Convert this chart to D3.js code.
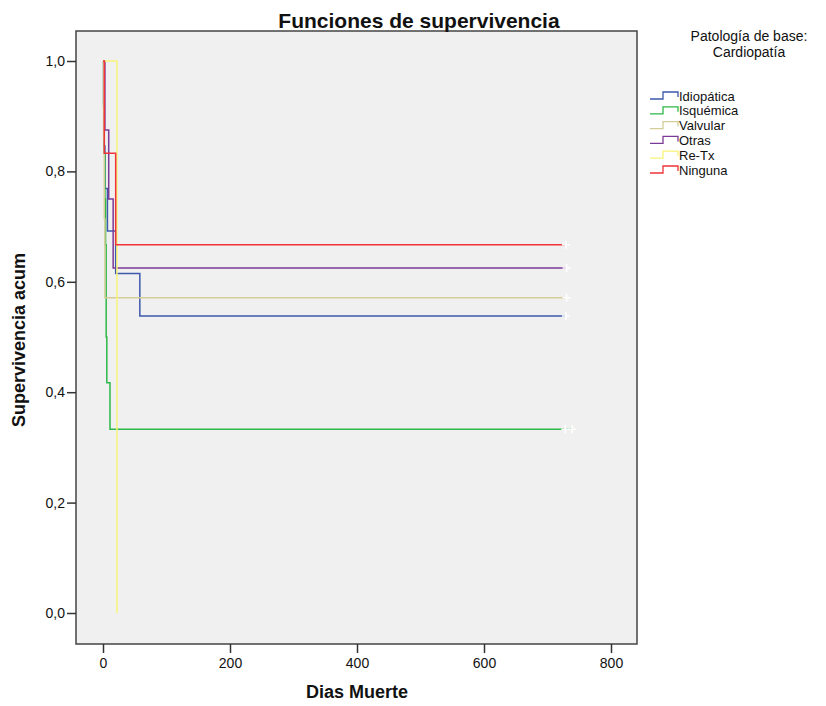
<!DOCTYPE html>
<html>
<head>
<meta charset="utf-8">
<script src="https://cdn.jsdelivr.net/npm/d3@7"></script>
<style>
  body { margin: 0; background: #fff; }
  svg text { font-family: "Liberation Sans", Arial, sans-serif; fill: #111; }
</style>
</head>
<body>
<div id="chart"></div>
<script>
// categorias y colores
const groups = ["Idiopática", "Isquémica", "Valvular", "Otras", "Re-Tx", "Ninguna"];
const colors = ["#3e58ac", "#2eb848", "#d3ce97", "#7b3a96", "#f8f47a", "#ef3338"];

// curvas Kaplan-Meier: tiempos (dias) y supervivencia acumulada
const times = [
  [0, 1, 2, 3, 7, 20, 58],
  [0, 1, 2, 3, 4, 5, 6, 11],
  [0, 1, 2, 3],
  [0, 3, 9, 16],
  [0, 22],
  [0, 2, 20]
];
const surv = [
  [1, 0.923, 0.846, 0.769, 0.692, 0.615, 0.538],
  [1, 0.917, 0.833, 0.75, 0.667, 0.5, 0.417, 0.333],
  [1, 0.857, 0.714, 0.571],
  [1, 0.875, 0.75, 0.625],
  [1, 0],
  [1, 0.833, 0.667]
];
// casos censurados
const censored = [[729], [728, 739], [730], [730], [], [729]];

const xTicks = [0, 200, 400, 600, 800];
const yTicks = [0, 0.2, 0.4, 0.6, 0.8, 1.0];

const width = 826, height = 706;
const frame = {left: 76, right: 637, top: 31, bottom: 644};

const svg = d3.select("#chart").append("svg")
  .attr("width", width)
  .attr("height", height);

let x = d3.scaleLinear().domain([0, 800]).range([103, 611]);
let y = d3.scaleLinear().domain([0, 1]).range([613, 61]);

// fondo del grafico
svg.append("rect")
  .attr("x", frame.left).attr("y", frame.top)
  .attr("width", frame.right - frame.left)
  .attr("height", frame.bottom - frame.top)
  .attr("fill", "#f0f0f0");

let plot = svg.append("g");

let line = d3.line()
  .x(d => x(d[0]))
  .y(d => y(d[1]))
  .curve(d3.curveStepAfter);

groups.forEach(function(g, i) {
  let pts = times[i].map((t, j) => [t, surv[i][j]]);
  let cens = censored[i];
  if (cens.length) pts.push([d3.max(cens), surv[i][surv[i].length - 1]]);
  plot.append("path")
    .attr("d", line(pts))
    .attr("fill", "none")
    .attr("stroke", colors[i])
    .attr("stroke-width", 1.5);
});

// marcas de censura
groups.forEach(function(g, i) {
  let s = surv[i][surv[i].length - 1];
  censored[i].forEach(function(t) {
    let cx = x(t), cy = y(s);
    plot.append("path")
      .attr("d", `M${cx - 4},${cy}H${cx + 4}M${cx},${cy - 4}V${cy + 4}`)
      .attr("stroke", "#fff")
      .attr("stroke-width", 1.6);
  });
});

// marco
svg.append("rect")
  .attr("x", frame.left).attr("y", frame.top)
  .attr("width", frame.right - frame.left)
  .attr("height", frame.bottom - frame.top)
  .attr("fill", "none")
  .attr("stroke", "#444")
  .attr("stroke-width", 1.5);

// ejes
let fmt = d3.format(".1f");
let xAxis = svg.append("g")
  .attr("transform", `translate(0,${frame.bottom})`)
  .call(d3.axisBottom(x).tickValues(xTicks).tickSize(9).tickPadding(5).tickFormat(d3.format("d")));
let yAxis = svg.append("g")
  .attr("transform", `translate(${frame.left},0)`)
  .call(d3.axisLeft(y).tickValues(yTicks).tickSize(9).tickPadding(2)
    .tickFormat(d => fmt(d).replace(".", ",")));
[xAxis, yAxis].forEach(function(a) {
  a.select(".domain").remove();
  a.selectAll("line").attr("stroke", "#333").attr("stroke-width", 1.5);
  a.selectAll("text").attr("font-size", 14).attr("fill", "#111")
    .attr("font-family", "Liberation Sans, Arial, sans-serif");
});

// titulos
svg.append("text")
  .attr("x", 419).attr("y", 28)
  .attr("text-anchor", "middle")
  .attr("font-size", 21).attr("font-weight", "bold")
  .text("Funciones de supervivencia");

svg.append("text")
  .attr("x", 357).attr("y", 698)
  .attr("text-anchor", "middle")
  .attr("font-size", 18).attr("font-weight", "bold")
  .text("Dias Muerte");

svg.append("text")
  .attr("transform", "translate(25,340) rotate(-90)")
  .attr("text-anchor", "middle")
  .attr("font-size", 18).attr("font-weight", "bold")
  .text("Supervivencia acum");

// leyenda
let legend = svg.append("g");
legend.append("text")
  .attr("x", 749).attr("y", 41)
  .attr("text-anchor", "middle").attr("font-size", 14)
  .text("Patología de base:");
legend.append("text")
  .attr("x", 749).attr("y", 57)
  .attr("text-anchor", "middle").attr("font-size", 14)
  .text("Cardiopatía");

groups.forEach(function(g, i) {
  let ly = 96 + i * 14.8;
  legend.append("path")
    .attr("d", `M650,${ly + 3}H663V${ly - 4}H678V${ly + 1}`)
    .attr("fill", "none")
    .attr("stroke", colors[i])
    .attr("stroke-width", 1.3);
  legend.append("text")
    .attr("x", 679).attr("y", ly + 4.5)
    .attr("font-size", 13)
    .text(g);
});
</script>
</body>
</html>
